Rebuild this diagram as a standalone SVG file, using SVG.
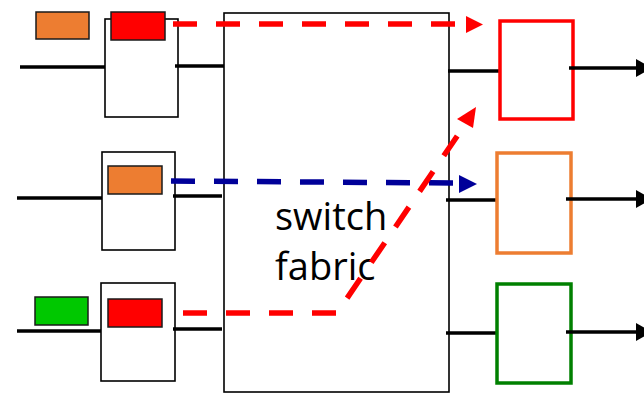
<svg xmlns="http://www.w3.org/2000/svg" width="644" height="395" viewBox="0 0 644 395">
<style>
.box{fill:#fff;stroke:#000;stroke-width:1.6}
.wire{stroke:#000;stroke-width:3.5;fill:none}
.pkt{stroke:#1a1a1a;stroke-width:1.5}
.out{fill:#fff;stroke-width:3.5}
.dash{fill:none;stroke-width:5.5;stroke-dasharray:24 19}
.lbl{font-family:"Open Sans","DejaVu Sans",sans-serif;font-size:38px;fill:#000}
</style>
<defs>
<marker id="ah" markerWidth="16" markerHeight="18" refX="0" refY="9" orient="auto" markerUnits="userSpaceOnUse"><path d="M0,0 L16,9 L0,18 Z" fill="#000"/></marker>
</defs>
<g id="fabric">
<rect class="box" x="224" y="13" width="225" height="379"/>
<text class="lbl" x="275" y="230">switch</text>
<text class="lbl" x="275" y="280">fabric</text>
</g>
<g id="in1">
<line class="wire" x1="20" y1="67" x2="105" y2="67"/>
<rect class="box" x="105" y="19" width="73" height="98"/>
<line class="wire" x1="175" y1="66" x2="224" y2="66"/>
<rect class="pkt" x="36" y="12" width="53" height="27" fill="#ed7d31"/>
<rect class="pkt" x="111" y="12" width="54" height="28" fill="#ff0000"/>
</g>
<g id="in2">
<line class="wire" x1="17" y1="198" x2="102" y2="198"/>
<rect class="box" x="102" y="152" width="73" height="98"/>
<line class="wire" x1="173" y1="196" x2="222" y2="196"/>
<rect class="pkt" x="108" y="166" width="54" height="28" fill="#ed7d31"/>
</g>
<g id="in3">
<line class="wire" x1="17" y1="331" x2="101" y2="331"/>
<rect class="box" x="101" y="283" width="74" height="98"/>
<line class="wire" x1="173" y1="329" x2="222" y2="329"/>
<rect class="pkt" x="35" y="297" width="53" height="28" fill="#00c800"/>
<rect class="pkt" x="108" y="299" width="54" height="28" fill="#ff0000"/>
</g>
<g id="out1">
<line class="wire" x1="448" y1="71" x2="500" y2="71"/>
<rect class="out" x="500" y="21" width="73" height="98" stroke="#ff0000"/>
<line class="wire" x1="569" y1="68" x2="636" y2="68" marker-end="url(#ah)"/>
</g>
<g id="out2">
<line class="wire" x1="446" y1="200" x2="497" y2="200"/>
<rect class="out" x="497" y="153" width="74" height="100" stroke="#ed7d31"/>
<line class="wire" x1="566" y1="199" x2="636" y2="199" marker-end="url(#ah)"/>
</g>
<g id="out3">
<line class="wire" x1="446" y1="333" x2="497" y2="333"/>
<rect class="out" x="497" y="284" width="74" height="99" stroke="#008000"/>
<line class="wire" x1="566" y1="332" x2="636" y2="332" marker-end="url(#ah)"/>
</g>
<g id="connectors">
<line class="dash" x1="173" y1="24" x2="460" y2="24" stroke="#ff0000"/>
<path d="M466,16 L483,24.5 L466,33 Z" fill="#ff0000"/>
<line class="dash" x1="171" y1="181" x2="455" y2="183" stroke="#000099"/>
<path d="M459,175 L477,184 L459,193 Z" fill="#000099"/>
<polyline class="dash" points="183,313 337,313 464,126" stroke="#ff0000"/>
<path d="M457,119 L476,107 L473,128 Z" fill="#ff0000"/>
</g>
</svg>
